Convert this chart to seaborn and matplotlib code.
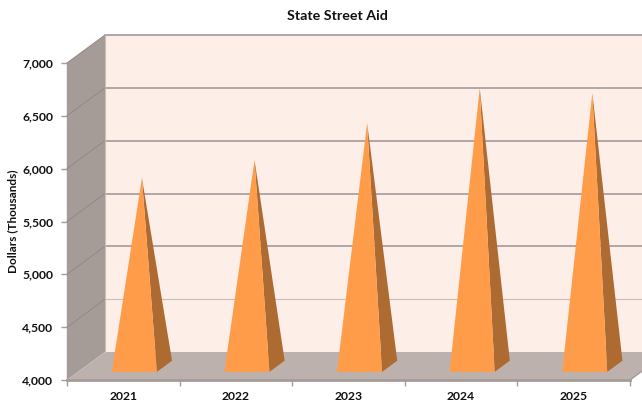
import matplotlib
matplotlib.use("Agg")
import matplotlib.pyplot as plt
import seaborn as sns
import pandas as pd

years = ["2021", "2022", "2023", "2024", "2025"]
values = [5782, 5952, 6302, 6633, 6586]
y_ticks = [4000, 4500, 5000, 5500, 6000, 6500, 7000]
title = "State Street Aid"
y_label = "Dollars (Thousands)"

sns.set_theme(style="white")
plt.rcParams["font.family"] = ["Lato", "DejaVu Sans"]

W, H = 642, 403
L, R, T, B = 67, 630, 63, 380
fig = plt.figure(figsize=(W / 100, H / 100), dpi=100, facecolor="white")
ax = fig.add_axes([L / W, (H - B) / H, (R - L) / W, (B - T) / H])
ax.set_xlim(0, 5)
ax.set_ylim(4000, 7000)

# one depth unit in data coordinates (38 px right, 28 px up)
DX = 38 / ((R - L) / 5)
DY = 28 / ((B - T) / 3000)
def P(x, y, d=0.0):
    return (x + d * DX, y + d * DY)

YMIN, YMAX = 4000, 7000
def poly(points, color, z, **kw):
    xs, ys = zip(*points)
    ax.fill(xs, ys, color=color, zorder=z, clip_on=False, lw=0, **kw)

# walls
poly([P(0, YMIN, 1), P(5, YMIN, 1), P(5, YMAX, 1), P(0, YMAX, 1)], "#FDEEE8", 1)
poly([P(0, YMIN), P(0, YMIN, 1), P(0, YMAX, 1), P(0, YMAX)], "#A59C98", 2)
poly([P(0, YMIN), P(5, YMIN), P(5, YMIN, 1), P(0, YMIN, 1)], "#BDB1AE", 2)

# gridlines along side wall and back wall
for v in y_ticks[1:]:
    a, b, c = P(0, v), P(0, v, 1), P(5, v, 1)
    light = v == 4500
    back = pd.DataFrame({"x": [b[0], c[0]], "y": [b[1], c[1]]})
    side = pd.DataFrame({"x": [a[0], b[0]], "y": [a[1], b[1]]})
    sns.lineplot(data=back, x="x", y="y", sort=False,
                 color="#C8BFBA" if light else "#A39B9A",
                 lw=0.8 if light else 1.2, zorder=3, clip_on=False, ax=ax,
                 errorbar=None, estimator=None)
    sns.lineplot(data=side, x="x", y="y", sort=False, color="#8F8A88",
                 lw=0.7, zorder=3, clip_on=False, ax=ax,
                 errorbar=None, estimator=None)
ax.plot([P(0, YMIN, 1)[0], P(0, YMAX, 1)[0]], [P(0, YMIN, 1)[1], P(0, YMAX, 1)[1]],
        color="#C8BFBA", lw=0.8, zorder=3, clip_on=False)

# pyramids
HW = 0.2
D0, D1 = 0.29, 0.69
for i, v in enumerate(values):
    cx = i + 0.5
    apex = P(cx, v, (D0 + D1) / 2)
    poly([P(cx + HW, YMIN, D0), P(cx + HW, YMIN, D1), apex], "#AD6A31", 5)
    poly([P(cx - HW, YMIN, D0), P(cx + HW, YMIN, D0), apex], "#FF9C4A", 6)

# outer edge of floor
ax.plot([5, P(5, YMIN, 1)[0]], [YMIN, P(5, YMIN, 1)[1]], color="#A59C98", lw=1,
        zorder=3, clip_on=False)

# axes
for s in ["top", "right"]:
    ax.spines[s].set_visible(False)
ax.spines["left"].set_color("#A59C98")
ax.spines["left"].set_linewidth(1)
ax.spines["bottom"].set_color("#A59C98")
ax.spines["bottom"].set_linewidth(2)
ax.spines["bottom"].set_zorder(7)
ax.set_yticks(y_ticks)
ax.set_yticklabels([f"{v:,}" for v in y_ticks], fontsize=8.7, fontweight="bold", color="#111111")
ax.set_xticks(range(6))
ax.set_xticklabels([])
ax.set_xticks([i + 0.5 for i in range(5)], minor=True)
ax.set_xticklabels(years, minor=True, fontsize=8.7, fontweight="bold", color="#111111")
ax.tick_params(axis="x", which="major", length=4, width=1, color="#A59C98", bottom=True)
ax.tick_params(axis="x", which="minor", length=0, pad=8, bottom=False)
ax.tick_params(axis="y", length=4, width=1, color="#A59C98", pad=6, left=True)
ax.set_xlabel("")
ax.set_ylabel("")

fig.text(337 / W, 1 - 16 / H, title, ha="center", va="center",
         fontsize=10.3, fontweight="bold", color="#111111")
fig.text(13 / W, 1 - 221 / H, y_label, ha="center", va="center", rotation=90,
         fontsize=8.5, fontweight="bold", color="#111111")

fig.savefig("out.png", dpi=100, facecolor="white")
